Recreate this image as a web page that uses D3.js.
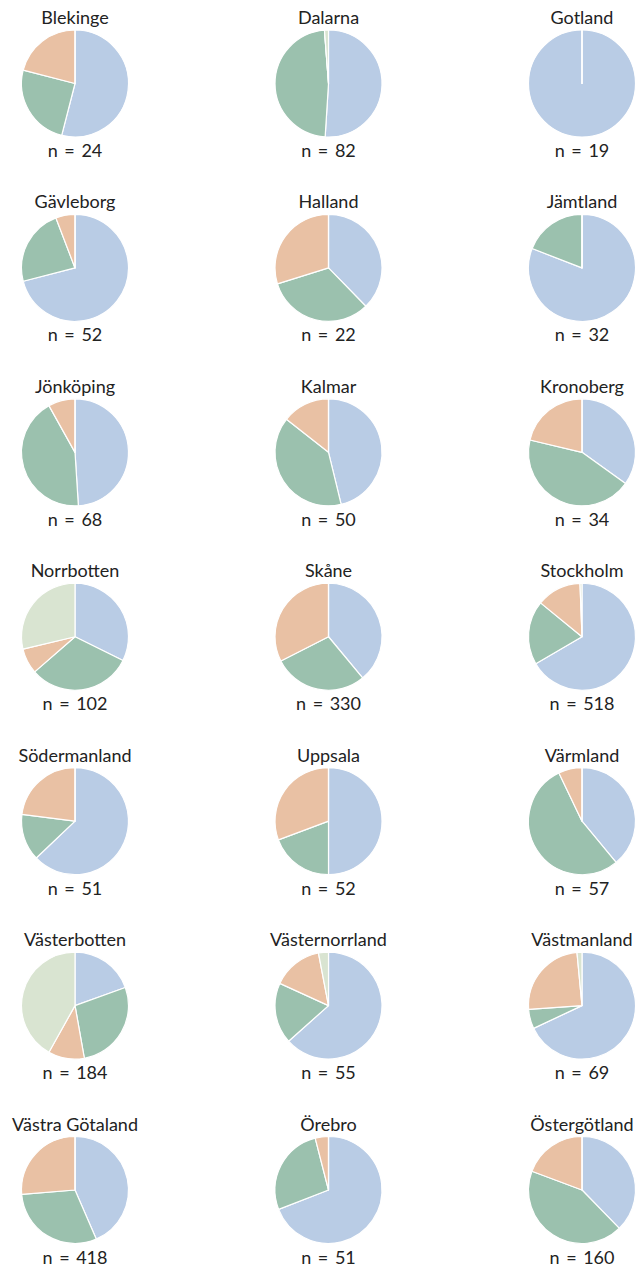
<!DOCTYPE html>
<html lang="sv">
<head>
    <meta charset="UTF-8">
    <script src="https://d3js.org/d3.v7.min.js"></script>
    <style>
        body {
            margin: 0;
            overflow: hidden;
            background: white;
        }

        text {
            font-family: "Gill Sans", "Lato", sans-serif;
            font-size: 18px;
            fill: #222;
        }

        text.n-label {
            word-spacing: 2px;
        }
    </style>
</head>
<body>
    <script>
        const width = 640,
              height = 1268;

        // regions, in drawing order (row by row, 3 per row)
        const regions = ["Blekinge", "Dalarna", "Gotland",
            "Gävleborg", "Halland", "Jämtland",
            "Jönköping", "Kalmar", "Kronoberg",
            "Norrbotten", "Skåne", "Stockholm",
            "Södermanland", "Uppsala", "Värmland",
            "Västerbotten", "Västernorrland", "Västmanland",
            "Västra Götaland", "Örebro", "Östergötland"];

        const nValues = [24, 82, 19, 52, 22, 32, 68, 50, 34, 102, 330, 518,
            51, 52, 57, 184, 55, 69, 418, 51, 160];

        // share (%) of each category, clockwise from 12 o'clock
        const blueShare   = [54, 51, 100, 71, 37.7, 80.9, 49, 46.2, 34.9, 32.3, 39, 66.6,
            62.9, 50, 39, 19.5, 63.4, 68, 43.5, 69.1, 37.7];
        const greenShare  = [25, 47.8, 0, 23.2, 32.5, 19.1, 42.9, 39.4, 43.8, 31.3, 28.5, 19.3,
            14.1, 19.3, 53.9, 27.7, 18.4, 5.9, 30.2, 26.9, 43];
        const orangeShare = [21, 0, 0, 5.8, 29.8, 0, 8.1, 14.4, 21.3, 7.7, 32.5, 13.5,
            23, 30.7, 7.1, 10.9, 15.2, 24.6, 26.3, 4, 19.3];
        const lightShare  = [0, 1.2, 0, 0, 0, 0, 0, 0, 0, 28.7, 0, 0.6,
            0, 0, 0, 41.9, 3, 1.5, 0, 0, 0];

        const colors = ["#b9cce5", "#9bc1ae", "#e9c1a4", "#d9e4d1"];

        const svg = d3.select('body')
            .append('svg')
            .attr('width', width)
            .attr('height', height);

        const nCols = 3;
        const nRows = Math.ceil(regions.length / nCols);

        const x = d3.scalePoint()
            .domain(d3.range(nCols))
            .range([75, 582]);

        const y = d3.scalePoint()
            .domain(d3.range(nRows))
            .range([83.5, 1190]);

        const radius = 53.5;

        const pie = d3.pie()
            .sort(null)
            .value(d => d);

        const arc = d3.arc()
            .innerRadius(0)
            .outerRadius(radius);

        const data = regions.map((name, i) => ({
            name: name,
            n: nValues[i],
            shares: [blueShare[i], greenShare[i], orangeShare[i], lightShare[i]],
            col: i % nCols,
            row: Math.floor(i / nCols)
        }));

        const cells = svg.selectAll('g.cell')
            .data(data)
            .enter()
            .append('g')
            .attr('class', 'cell')
            .attr('transform', d => `translate(${x(d.col)}, ${y(d.row)})`);

        cells.selectAll('path')
            .data(d => pie(d.shares))
            .enter()
            .append('path')
            .attr('d', arc)
            .attr('fill', (d, i) => colors[i])
            .attr('stroke', 'white')
            .attr('stroke-width', 1.2)
            .attr('stroke-linejoin', 'round');

        cells.append('text')
            .attr('y', -radius - 6)
            .attr('text-anchor', 'middle')
            .text(d => d.name);

        cells.append('text')
            .attr('class', 'n-label')
            .attr('y', radius + 20)
            .attr('text-anchor', 'middle')
            .text(d => `n = ${d.n}`);
    </script>
</body>
</html>
